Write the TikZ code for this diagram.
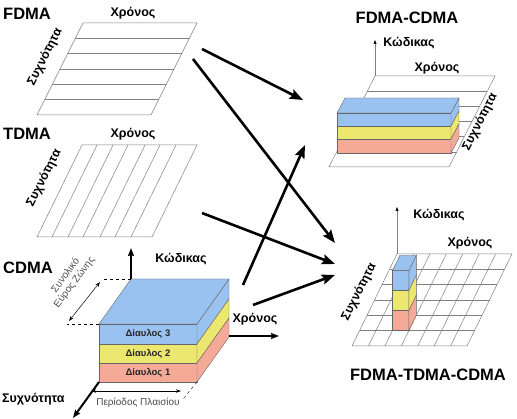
\documentclass[tikz,border=0pt]{standalone}
\usepackage{fontspec}
\setmainfont{Liberation Sans}
\usepackage{tikz}
\usetikzlibrary{arrows.meta,calc}
\definecolor{chanblue}{RGB}{153,194,240}
\definecolor{chanyellow}{RGB}{236,231,110}
\definecolor{chanred}{RGB}{245,170,152}

\begin{document}
\begin{tikzpicture}[x=1pt,y=-1pt,
  planeline/.style={draw=black!50,line width=0.5pt},
  facebox/.style={draw=black!60,line width=0.4pt},
  title/.style={font=\fontsize{16.5}{18}\selectfont\bfseries,inner sep=0pt},
  axislabel/.style={font=\fontsize{12.5}{14}\selectfont\bfseries,inner sep=0pt},
  chanlabel/.style={font=\fontsize{9.5}{11}\selectfont\bfseries,text=black!85,inner sep=0pt},
  dimlabel/.style={font=\fontsize{10}{11}\selectfont,text=black!70,inner sep=0pt},
  flowarrow/.style={-{Stealth[length=13pt,width=10pt,inset=2pt]},line width=2.6pt},
  axisarrow/.style={-{Stealth[length=8pt,width=6pt,inset=1pt]},line width=2pt},
  smallaxis/.style={draw=black!50,line width=0.6pt,-{Stealth[length=4pt,width=3pt,inset=0.5pt,black]}},
  dimarrow/.style={{Stealth[length=5pt,width=3.5pt]}-{Stealth[length=5pt,width=3.5pt]},line width=0.5pt}]
\useasboundingbox (0,0) rectangle (517,419);

% FDMA
\draw[planeline] (37,115) -- (83,23) -- (197,23) -- (151,115) -- cycle;
\foreach \y in {1,...,5}
  \draw[planeline] ($(37,115)!\y/6!(83,23)$) -- ($(151,115)!\y/6!(197,23)$);
\node[title,anchor=west] (fdma) at (3,14) {FDMA};
\node[axislabel] (fdma-time) at (133,13) {Χρόνος};
\node[axislabel,rotate=63] (fdma-freq) at (45,57) {Συχνότητα};

% TDMA
\draw[planeline] (37,237) -- (82,145) -- (197,145) -- (152,237) -- cycle;
\foreach \x in {97,113,128,145,160,176}
  \draw[planeline] (\x,145) -- ++(-45,92);
\node[title,anchor=west] (tdma) at (3,134) {TDMA};
\node[axislabel] (tdma-time) at (133,134) {Χρόνος};
\node[axislabel,rotate=63] (tdma-freq) at (44,178) {Συχνότητα};

% CDMA
\draw[facebox,fill=chanblue] (99,324) rectangle (197,344);
\draw[facebox,fill=chanyellow] (99,344) rectangle (197,363);
\draw[facebox,fill=chanred] (99,363) rectangle (197,382);
\draw[facebox,fill=chanblue] (197,324) -- (229,279) -- (229,299) -- (197,344) -- cycle;
\draw[facebox,fill=chanyellow] (197,344) -- (229,299) -- (229,318) -- (197,363) -- cycle;
\draw[facebox,fill=chanred] (197,363) -- (229,318) -- (229,337) -- (197,382) -- cycle;
\draw[facebox,fill=chanblue] (99,324) -- (131,279) -- (229,279) -- (197,324) -- cycle;
\node[chanlabel] (ch3) at (148,334) {Δίαυλος 3};
\node[chanlabel] (ch2) at (148,354) {Δίαυλος 2};
\node[chanlabel] (ch1) at (148,373) {Δίαυλος 1};
\draw[axisarrow] (131,279) -- (131,248);
\draw[axisarrow] (229,336) -- (279,336);
\draw[axisarrow] (99,382) -- (73,418);
\draw[dashed] (131,279) -- (102,279);
\draw[dashed] (99,324) -- (67,324);
\draw[dashed] (197,382) -- (183,399);
\draw[dimarrow] (69,321) -- (100,282);
\draw[dimarrow] (91,391) -- (181,391);
\node[dimlabel,align=center,rotate=53] (band) at (70,279) {Συνολικό\\Εύρος Ζώνης};
\node[dimlabel] (frame) at (138,403) {Περίοδος Πλαισίου};
\node[title,anchor=west] (cdma) at (3,268) {CDMA};
\node[axislabel] (cdma-code) at (181,259) {Κώδικας};
\node[axislabel] (cdma-time) at (255,319) {Χρόνος};
\node[axislabel,anchor=west] (cdma-freq) at (2,399) {Συχνότητα};

% FDMA-CDMA
\draw[planeline] (329,167) -- (375,76) -- (495,76) -- (449,167) -- cycle;
\foreach \y in {1,...,5}
  \draw[planeline] ($(329,167)!\y/6!(375,76)$) -- ($(449,167)!\y/6!(495,76)$);
\draw[smallaxis] (375,76) -- (375,40);
\draw[facebox,fill=chanblue] (337,113) rectangle (451,126);
\draw[facebox,fill=chanyellow] (337,126) rectangle (451,139);
\draw[facebox,fill=chanred] (337,139) rectangle (451,153);
\draw[facebox,fill=chanblue] (451,113) -- (459,98) -- (459,111) -- (451,126) -- cycle;
\draw[facebox,fill=chanyellow] (451,126) -- (459,111) -- (459,124) -- (451,139) -- cycle;
\draw[facebox,fill=chanred] (451,139) -- (459,124) -- (459,138) -- (451,153) -- cycle;
\draw[facebox,fill=chanblue] (337,113) -- (345,98) -- (459,98) -- (451,113) -- cycle;
\node[title] (fc) at (407,18) {FDMA-CDMA};
\node[axislabel] (fc-code) at (409,43) {Κώδικας};
\node[axislabel] (fc-time) at (437,68) {Χρόνος};
\node[axislabel,rotate=63] (fc-freq) at (480,122) {Συχνότητα};

% FDMA-TDMA-CDMA
\draw[planeline] (352,346) -- (397,254) -- (512,254) -- (467,346) -- cycle;
\foreach \i in {1,...,6}
  \draw[planeline] ($(397,254)!\i/7!(512,254)$) -- ($(352,346)!\i/7!(467,346)$);
\foreach \j in {1,...,5}
  \draw[planeline] ($(397,254)!\j/6!(352,346)$) -- ($(512,254)!\j/6!(467,346)$);
\draw[smallaxis] (397,254) -- (397,207);
\draw[facebox,fill=chanblue] (392.4,270.7) rectangle (408.8,290.7);
\draw[facebox,fill=chanyellow] (392.4,290.7) rectangle (408.8,310.7);
\draw[facebox,fill=chanred] (392.4,310.7) rectangle (408.8,330.7);
\draw[facebox,fill=chanblue] (408.8,270.7) -- (416.3,255.3) -- (416.3,275.3) -- (408.8,290.7) -- cycle;
\draw[facebox,fill=chanyellow] (408.8,290.7) -- (416.3,275.3) -- (416.3,295.3) -- (408.8,310.7) -- cycle;
\draw[facebox,fill=chanred] (408.8,310.7) -- (416.3,295.3) -- (416.3,315.3) -- (408.8,330.7) -- cycle;
\draw[facebox,fill=chanblue] (392.4,270.7) -- (399.9,255.3) -- (416.3,255.3) -- (408.8,270.7) -- cycle;
\node[title] (ftc) at (428,375) {FDMA-TDMA-CDMA};
\node[axislabel] (ftc-code) at (439,215) {Κώδικας};
\node[axislabel] (ftc-time) at (470,243) {Χρόνος};
\node[axislabel,rotate=63] (ftc-freq) at (359,292) {Συχνότητα};

% arrows between panels
\coordinate (fdma-a) at (202,49);
\coordinate (fdma-b) at (193,59);
\coordinate (tdma-a) at (202,213);
\coordinate (cdma-a) at (243,285);
\coordinate (cdma-b) at (253,305);
\coordinate (fc-in1) at (303,100);
\coordinate (fc-in2) at (305,145);
\coordinate (ftc-in1) at (335,243);
\coordinate (ftc-in2) at (335,264);
\coordinate (ftc-in3) at (335,275);
\draw[flowarrow] (fdma-a) -- (fc-in1);
\draw[flowarrow] (fdma-b) -- (ftc-in1);
\draw[flowarrow] (tdma-a) -- (ftc-in2);
\draw[flowarrow] (cdma-a) -- (fc-in2);
\draw[flowarrow] (cdma-b) -- (ftc-in3);
\end{tikzpicture}
\end{document}
